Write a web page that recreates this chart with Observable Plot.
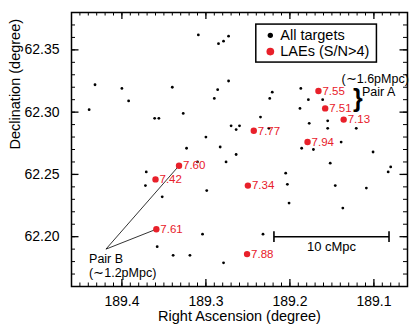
<!DOCTYPE html>
<html>
<head>
<meta charset="utf-8">
<script src="https://cdn.jsdelivr.net/npm/d3@7"></script>
<script src="https://cdn.jsdelivr.net/npm/@observablehq/plot@0.6"></script>
<style>
  html, body { margin: 0; padding: 0; background: white; }
</style>
</head>
<body>
<div id="chart"></div>
<script>
// All targets (RA, Dec in degrees)
const targetRA = [189.439,189.432,189.400,189.392,189.361,189.356,189.340,189.327,189.323,189.309,
  189.300,189.310,189.285,189.279,189.273,189.273,189.286,189.290,189.221,189.224,
  189.187,189.178,189.161,189.188,189.235,189.270,189.264,189.260,189.225,189.283,
  189.264,189.276,189.177,189.155,189.155,189.121,189.139,189.186,189.172,189.101,
  189.152,189.371,189.372,189.352,189.299,189.304,189.358,189.339,189.319,189.205,
  189.203,189.201,189.146,189.137,189.109,189.083,189.080,189.232,189.279];
const targetDec = [62.302,62.322,62.319,62.309,62.295,62.295,62.320,62.299,62.271,62.362,
  62.280,62.260,62.355,62.357,62.361,62.325,62.318,62.311,62.316,62.311,
  62.319,62.310,62.310,62.303,62.296,62.289,62.286,62.289,62.287,62.272,
  62.266,62.260,62.291,62.293,62.287,62.287,62.276,62.271,62.270,62.268,
  62.259,62.252,62.241,62.232,62.237,62.202,62.192,62.185,62.185,62.251,
  62.242,62.227,62.241,62.223,62.239,62.252,62.256,62.202,62.179];

// LAEs (S/N>4)
const laeRA  = [189.166,189.158,189.136,189.243,189.179,189.332,189.360,189.359,189.250,189.251];
const laeDec = [62.317,62.303,62.294,62.285,62.276,62.257,62.246,62.206,62.241,62.186];
const laeZ   = ["7.55","7.51","7.13","7.77","7.94","7.60","7.42","7.61","7.34","7.88"];

// Axis ticks
const xMajorTicks = [189.4, 189.3, 189.2, 189.1];
const yMajorTicks = [62.20, 62.25, 62.30, 62.35];
const xLabel = "Right Ascension (degree)";
const yLabel = "Declination (degree)";

// Annotations
const pairBApex = {ra: 189.419, dec: 62.190};
const pairBTargets = [5, 7]; // indices into LAE arrays (7.60, 7.61)
const pairBText = ["Pair B", "(\u223c1.2pMpc)"];
const pairBTextRA = [189.4391, 189.4391];
const pairBTextDec = [62.1817, 62.1708];
const pairAText = ["(\u223c1.6pMpc)", "Pair A"];
const pairATextRA = [189.1385, 189.1142];
const pairATextDec = [62.3264, 62.3160];
const braceRA = 189.1190, braceDec = 62.3105;
const scaleBar = {ra1: 189.219, ra2: 189.082, dec: 62.200, cap: 0.0043, label: "10 cMpc", labelRA: 189.1505, labelDec: 62.1922};
const legendBox = {ra1: 189.240, ra2: 189.0964, dec1: 62.3398, dec2: 62.3703};
const legendItems = ["All targets", "LAEs (S/N>4)"];
const legendDotRA = 189.2233, legendTextRA = 189.2115;
const legendDec = [62.3617, 62.3486];

const RED = "#e8202a";
const W = 415, H = 324, ML = 71, MR = 8, MT = 12, MB = 38;
const FW = W - ML - MR, FH = H - MT - MB;

const targets = targetRA.map((ra, i) => ({ra, dec: targetDec[i]}));
const laes = laeRA.map((ra, i) => ({ra, dec: laeDec[i], z: laeZ[i]}));
const pairLinks = pairBTargets.map(i => ({x1: pairBApex.ra, y1: pairBApex.dec, x2: laeRA[i], y2: laeDec[i]}));

const xMinor = d3.range(0, 41).map(i => +(189.06 + i * 0.01).toFixed(2));
const yMinor = d3.range(0, 23).map(i => +(62.16 + i * 0.01).toFixed(2));

const chart = Plot.plot({
  width: W, height: H,
  marginLeft: ML, marginRight: MR, marginTop: MT, marginBottom: MB,
  x: {domain: [189.46, 189.06]},
  y: {domain: [62.16, 62.38]},
  style: {fontFamily: "'Liberation Sans', Arial, sans-serif", fontSize: "14px", background: "white", color: "black"},
  marks: [
    // inward ticks, all four sides
    Plot.tickX(xMinor, {x: d => d, insetTop: FH - 3.5, stroke: "black", strokeWidth: 1}),
    Plot.tickX(xMinor, {x: d => d, insetBottom: FH - 3.5, stroke: "black", strokeWidth: 1}),
    Plot.tickX(xMajorTicks, {x: d => d, insetTop: FH - 7, stroke: "black", strokeWidth: 1.3}),
    Plot.tickX(xMajorTicks, {x: d => d, insetBottom: FH - 7, stroke: "black", strokeWidth: 1.3}),
    Plot.tickY(yMinor, {y: d => d, insetRight: FW - 4, stroke: "black", strokeWidth: 1}),
    Plot.tickY(yMinor, {y: d => d, insetLeft: FW - 4, stroke: "black", strokeWidth: 1}),
    Plot.tickY(yMajorTicks, {y: d => d, insetRight: FW - 7.5, stroke: "black", strokeWidth: 1.3}),
    Plot.tickY(yMajorTicks, {y: d => d, insetLeft: FW - 7.5, stroke: "black", strokeWidth: 1.3}),
    Plot.axisX(xMajorTicks, {tickSize: 0, tickPadding: 10, tickFormat: d => d.toFixed(1), fontSize: 14, label: null}),
    Plot.axisY(yMajorTicks, {tickSize: 0, tickPadding: 12, tickFormat: d => d.toFixed(2), fontSize: 14, label: null}),
    Plot.text([xLabel], {frameAnchor: "bottom", dy: 30, lineAnchor: "middle", fontSize: 14.5}),
    Plot.text([yLabel], {frameAnchor: "left", dx: -56, rotate: -90, lineAnchor: "middle", fontSize: 14.5}),
    Plot.frame({stroke: "black", strokeWidth: 1.5}),

    // Pair B connecting lines
    Plot.link(pairLinks, {x1: "x1", y1: "y1", x2: "x2", y2: "y2", stroke: "black", strokeWidth: 0.8}),

    // all targets
    Plot.dot(targets, {x: "ra", y: "dec", r: 1.4, fill: "black"}),
    // LAEs
    Plot.dot(laes, {x: "ra", y: "dec", r: 3.2, fill: RED}),
    Plot.text(laes, {x: "ra", y: "dec", text: "z", dx: 4, textAnchor: "start", lineAnchor: "middle", fill: RED, fontSize: 11.5}),

    // Pair annotations
    Plot.text(pairBText, {x: (d, i) => pairBTextRA[i], y: (d, i) => pairBTextDec[i], text: d => d, textAnchor: "start", lineAnchor: "middle", fontSize: 12.5}),
    Plot.text(pairAText, {x: (d, i) => pairATextRA[i], y: (d, i) => pairATextDec[i], text: d => d, textAnchor: "start", lineAnchor: "middle", fontSize: 12.5}),
    Plot.text(["}"], {x: () => braceRA, y: () => braceDec, text: d => d, textAnchor: "middle", lineAnchor: "middle", fontSize: 25, fontWeight: "bold"}),

    // scale bar
    Plot.link([scaleBar], {x1: "ra1", x2: "ra2", y1: "dec", y2: "dec", stroke: "black", strokeWidth: 1.6}),
    Plot.link([scaleBar.ra1, scaleBar.ra2], {x1: d => d, x2: d => d, y1: () => scaleBar.dec - scaleBar.cap, y2: () => scaleBar.dec + scaleBar.cap, stroke: "black", strokeWidth: 1.6}),
    Plot.text([scaleBar.label], {x: () => scaleBar.labelRA, y: () => scaleBar.labelDec, text: d => d, textAnchor: "middle", lineAnchor: "middle", fontSize: 13}),

    // legend
    Plot.rect([legendBox], {x1: "ra1", x2: "ra2", y1: "dec1", y2: "dec2", fill: "white", stroke: "black", strokeWidth: 1.5}),
    Plot.dot(legendItems, {x: () => legendDotRA, y: (d, i) => legendDec[i], r: (d, i) => i === 0 ? 1.6 : 3.4, fill: (d, i) => i === 0 ? "black" : RED}),
    Plot.text(legendItems, {x: () => legendTextRA, y: (d, i) => legendDec[i], text: d => d, textAnchor: "start", lineAnchor: "middle", fontSize: 14.5})
  ]
});
document.getElementById("chart").appendChild(chart);
</script>
</body>
</html>
